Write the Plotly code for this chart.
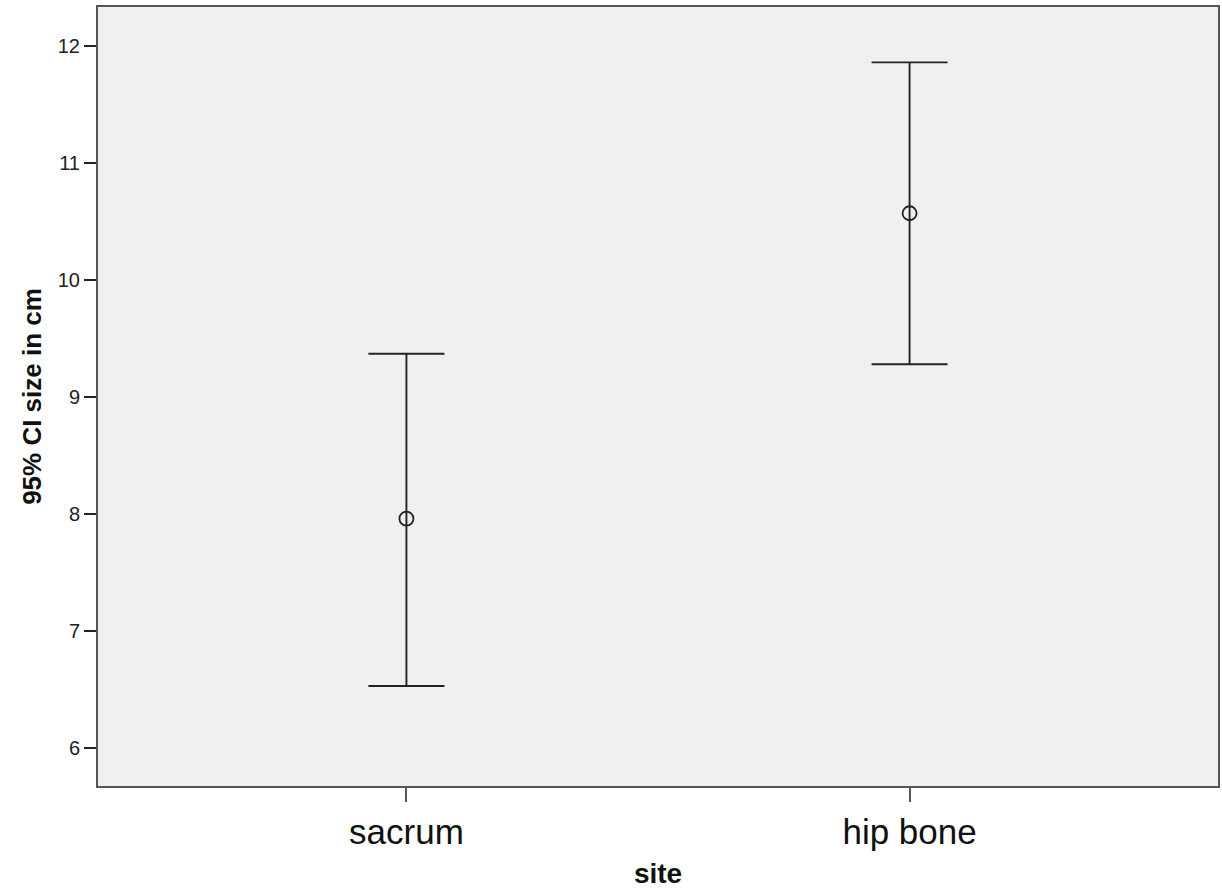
import plotly.graph_objects as go

sites = ["sacrum", "hip bone"]
means = [7.96, 10.57]
upper = [9.37, 11.86]
lower = [6.53, 9.28]
y_ticks = [6, 7, 8, 9, 10, 11, 12]

err_plus = [u - m for u, m in zip(upper, means)]
err_minus = [m - l for m, l in zip(means, lower)]

fig = go.Figure()
fig.add_trace(go.Scatter(
    x=sites, y=means, mode="markers",
    marker=dict(symbol="circle-open", size=14, color="#222222", line=dict(width=1.8, color="#222222")),
    error_y=dict(type="data", symmetric=False, array=err_plus, arrayminus=err_minus,
                 color="#222222", thickness=1.9, width=38),
    showlegend=False,
    hoverinfo="skip",
))

axis_color = "#555555"
fig.update_layout(
    width=1222, height=889,
    margin=dict(l=98, r=2, t=7, b=102),
    paper_bgcolor="white", plot_bgcolor="#f0f0f0",
    font=dict(family="Liberation Sans, Arial, sans-serif", color="#222222"),
    xaxis=dict(
        type="category", range=[-0.613, 1.613],
        showgrid=False, zeroline=False,
        showline=True, linecolor=axis_color, linewidth=2, mirror=True,
        ticks="outside", ticklen=14, tickwidth=2, tickcolor=axis_color,
        tickfont=dict(size=35, color="#111111"),
        title=dict(text="<b>site</b>", font=dict(size=28, color="#111111"), standoff=16),
    ),
    yaxis=dict(
        range=[5.675, 12.333], tickvals=y_ticks,
        showgrid=False, zeroline=False,
        showline=True, linecolor=axis_color, linewidth=2, mirror=True,
        ticks="outside", ticklen=12, tickwidth=2, tickcolor="#222222",
        tickfont=dict(size=20, color="#222222"),
        title=dict(text="<b>95% CI size in cm</b>", font=dict(size=26, color="#111111"), standoff=9),
    ),
)

fig.write_html(
    "out.html",
    config={"displayModeBar": False},
    post_script="document.body.style.margin='0';document.body.style.overflow='hidden';",
)
